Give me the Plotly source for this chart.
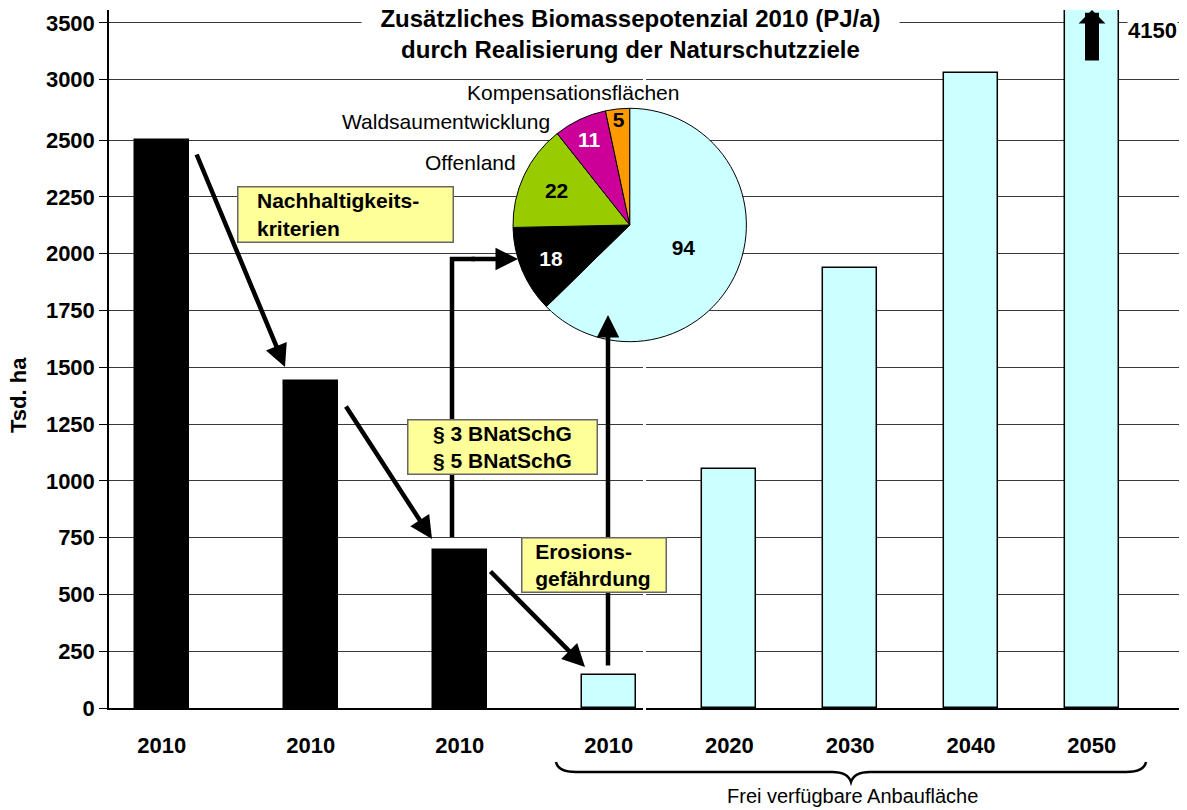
import plotly.graph_objects as go

# bar data (left block: 2010 steps, right block: free area by year)
left_years = ['2010', '2010', '2010', '2010']
left_values = [2500, 1441, 696, 146]
left_colors = ['#000000', '#000000', '#000000', '#CCFFFF']

right_years = ['2020', '2030', '2040', '2050']
right_values = [1053, 1937, 2795, 4150]
right_color = '#CCFFFF'

# y axis ticks as printed on the chart
y_tickvals = [0, 250, 500, 750, 1000, 1250, 1500, 1750, 2000, 2250, 2500, 2765, 3015]
y_ticktext = ['0', '250', '500', '750', '1000', '1250', '1500', '1750', '2000',
              '2250', '2500', '3000', '3500']

# inset pie: additional biomass potential 2010 (PJ/a)
pie_labels = ['Anbaufläche', 'BNatSchG', 'Offenland', 'Waldsaumentwicklung', 'Kompensationsflächen']
pie_values = [94, 18, 22, 11, 5]
pie_colors = ['#CCFFFF', '#000000', '#99CC00', '#CC0099', '#FF9900']
pie_text_colors = ['black', 'white', 'black', 'white', 'black']

FONT = 'Liberation Sans, Arial, Helvetica, sans-serif'
W, H = 1187, 810
L, R, T, B = 109, 8, 10, 102
PW, PH = W - L - R, H - T - B


def to_paper(x, y):
    return (x - L) / PW, (H - B - y) / PH


def bold(size=21, color='black'):
    return dict(family=FONT, size=size, color=color, weight='bold')


def plain(size=21):
    return dict(family=FONT, size=size, color='black')


fig = go.Figure()

fig.add_trace(go.Bar(x=list(range(len(left_values))), y=left_values, width=0.362,
                     marker=dict(color=left_colors, line=dict(color='black', width=1.5)),
                     xaxis='x', yaxis='y', showlegend=False))
fig.add_trace(go.Bar(x=list(range(len(right_values))), y=right_values, width=0.447,
                     marker=dict(color=right_color, line=dict(color='black', width=1.5)),
                     xaxis='x2', yaxis='y2', showlegend=False))

px0, py0 = to_paper(512.7, 341.7)
px1, py1 = to_paper(746.7, 108.3)
fig.add_trace(go.Pie(values=pie_values, labels=pie_labels, sort=False,
                     direction='clockwise', rotation=0,
                     marker=dict(colors=pie_colors, line=dict(color='black', width=1)),
                     textinfo='value', textposition='inside',
                     insidetextorientation='horizontal',
                     insidetextfont=dict(family=FONT, size=21, color=pie_text_colors, weight='bold'),
                     domain=dict(x=[px0, px1], y=[py0, py1]), showlegend=False))

y_range = [0, PH / 0.2272]
axis_common = dict(showline=True, linecolor='black', linewidth=1.5, ticks='',
                   showgrid=False, zeroline=False, tickfont=bold(22),
                   ticklabelstandoff=17)

fig.update_layout(
    width=W, height=H,
    margin=dict(l=L, r=R, t=T, b=B),
    paper_bgcolor='white', plot_bgcolor='white',
    bargap=0,
    uniformtext=dict(minsize=21, mode='show'),
    xaxis=dict(domain=[0, 0.4991], range=[-0.354, 3.230], anchor='y',
               tickvals=list(range(len(left_years))), ticktext=left_years, **axis_common),
    xaxis2=dict(domain=[0.5019, 1], range=[-0.690, 3.723], anchor='y2',
                tickvals=list(range(len(right_years))), ticktext=right_years, **axis_common),
    yaxis=dict(domain=[0, 1], range=y_range, anchor='x',
               tickvals=y_tickvals, ticktext=y_ticktext, tickfont=bold(22),
               showline=True, linecolor='black', linewidth=1.5,
               ticks='outside', ticklen=8, tickcolor='black',
               showgrid=True, gridcolor='#3a3a3a', gridwidth=1, zeroline=False),
    yaxis2=dict(domain=[0, 1], range=y_range, anchor='x2',
                tickvals=y_tickvals, showticklabels=False, ticks='',
                showline=False, showgrid=True, gridcolor='#3a3a3a', gridwidth=1,
                zeroline=False),
)


def arrow(tail, tip, width=4.5, head=2, size=1.0):
    x, y = to_paper(*tip)
    return dict(x=x, y=y, xref='paper', yref='paper', text='',
                ax=tail[0] - tip[0], ay=tail[1] - tip[1], axref='pixel', ayref='pixel',
                showarrow=True, arrowhead=head, arrowsize=size, arrowwidth=width,
                arrowcolor='black', standoff=0, startstandoff=0)


def box(text, x0, y0, x1, y1, align='left'):
    bw, pad = 1.5, 1
    x, y = to_paper(x0, y0)
    return dict(text=text, x=x, y=y, xref='paper', yref='paper',
                xanchor='left', yanchor='top', showarrow=False,
                width=x1 - x0 - 2 * (bw + pad), height=y1 - y0 - 2 * (bw + pad),
                align=align, valign='middle', bgcolor='#FFFF99',
                bordercolor='#666666', borderwidth=bw, borderpad=pad, font=bold(21))


def label(text, x, y, font, xanchor='center', **kw):
    px, py = to_paper(x, y)
    return dict(text=text, x=px, y=py, xref='paper', yref='paper',
                xanchor=xanchor, yanchor='middle', showarrow=False, font=font, **kw)


sp = '\u00a0' * 3
annotations = [
    arrow((196, 153), (285, 367)),
    arrow((345, 405), (432, 539)),
    arrow((489, 570), (585, 667)),
    arrow((608, 667), (608, 315)),
    arrow((470, 259), (518, 259)),
    arrow((1092, 62), (1092, 10), width=14, head=1, size=0.32),
    box(sp + 'Nachhaltigkeits-<br>' + sp + 'kriterien', 237, 186, 454, 243),
    box('§ 3 BNatSchG<br>§ 5 BNatSchG', 407, 419, 598, 475, align='center'),
    box('\u00a0\u00a0Erosions-<br>\u00a0\u00a0gefährdung', 521, 537, 667, 593),
    label('Zusätzliches Biomassepotenzial 2010 (PJ/a)<br>durch Realisierung der Naturschutzziele',
          630, 34, bold(24), bgcolor='white', width=535),
    label('4150', 1152, 30, bold(22), bgcolor='white', borderpad=0),
    label('Offenland', 518, 162, plain(21), xanchor='right'),
    label('Waldsaumentwicklung', 552, 121, plain(21), xanchor='right'),
    label('Kompensationsflächen', 573, 93, plain(21)),
    label('Tsd. ha', 18, 395, bold(22), textangle=-90),
    label('Frei verfügbare Anbaufläche', 852, 796, plain(20)),
]
fig.update_layout(annotations=annotations)


def path(points_cmds):
    out = []
    for cmd, pts in points_cmds:
        coords = ' '.join('%.5f,%.5f' % to_paper(x, y) for x, y in pts)
        out.append(cmd + coords)
    return ' '.join(out)


elbow = path([('M', [(452, 537)]), ('L', [(452, 259)]), ('L', [(475, 259)])])
brace = path([('M', [(556, 762)]), ('Q', [(558, 772), (576, 772)]), ('L', [(832, 772)]),
              ('Q', [(848, 772), (851, 782)]), ('Q', [(854, 772), (870, 772)]),
              ('L', [(1126, 772)]), ('Q', [(1144, 772), (1146, 762)])])

fig.update_layout(shapes=[
    dict(type='path', path=elbow, xref='paper', yref='paper',
         line=dict(color='black', width=4.5), layer='above'),
    dict(type='path', path=brace, xref='paper', yref='paper',
         line=dict(color='black', width=2.5), layer='above'),
])

# page has a default 8px body margin; drop it so the figure sits at the window corner
fig.write_html('out.html', config={'displayModeBar': False},
               post_script="document.body.style.margin='0';document.body.style.overflow='hidden';")
